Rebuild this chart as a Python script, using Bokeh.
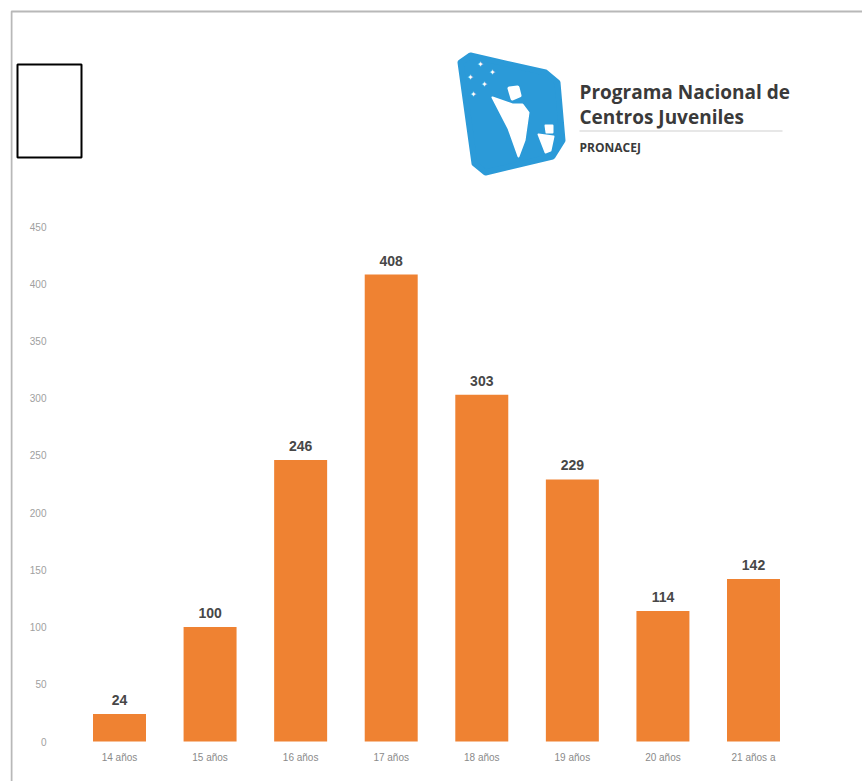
from bokeh.plotting import figure
from bokeh.models import (ColumnDataSource, FactorRange, Range1d, FixedTicker, LabelSet,
                          Label, BoxAnnotation, PolyAnnotation)
from bokeh.core.properties import value
from bokeh.embed import file_html
from bokeh.resources import INLINE

categories = ["14 años", "15 años", "16 años", "17 años", "18 años", "19 años", "20 años", "21 años a"]
values = [24, 100, 246, 408, 303, 229, 114, 142]
y_ticks = [0, 50, 100, 150, 200, 250, 300, 350, 400, 450]

src = ColumnDataSource(dict(cat=categories, val=values, lab=[str(v) for v in values]))

W, H = 862, 781
FL, FB = 10, 781      # frame left / frame bottom in page pixels
ZERO = 741            # page y of value 0
PX_PER_UNIT = (741 - 226) / 450.0

def sx(px):
    return px - FL

def sy(py):
    return FB - py

p = figure(width=W, height=H,
           x_range=FactorRange(*categories, range_padding=0.7035, range_padding_units="absolute"),
           y_range=Range1d(-(FB - ZERO) / PX_PER_UNIT, ZERO / PX_PER_UNIT),
           output_backend="svg", toolbar_location=None,
           min_border_left=FL, min_border_right=0, min_border_top=0, min_border_bottom=0)
p.outline_line_color = None
p.background_fill_color = "white"
p.border_fill_color = "white"
p.xgrid.grid_line_color = None
p.ygrid.grid_line_color = None

p.vbar(x="cat", top="val", width=0.585, source=src, color="#EF8232", line_color=None)

labels = LabelSet(x="cat", y="val", text="lab", source=src, text_align="center",
                  text_baseline="bottom", y_offset=9, text_font=value("Liberation Sans"),
                  text_font_style="bold", text_font_size="14px", text_color="#474747")
p.add_layout(labels)

p.yaxis.ticker = FixedTicker(ticks=y_ticks)
p.yaxis.axis_line_color = None
p.yaxis.major_tick_line_color = None
p.yaxis.minor_tick_line_color = None
p.yaxis.major_tick_out = 0
p.yaxis.major_tick_in = 0
p.yaxis.major_label_standoff = -36
p.yaxis.major_label_text_font = "Liberation Sans"
p.yaxis.major_label_text_font_size = "10px"
p.yaxis.major_label_text_color = "#a0a0a0"

p.xaxis.axis_line_color = None
p.xaxis.major_tick_line_color = None
p.xaxis.minor_tick_line_color = None
p.xaxis.major_tick_out = 0
p.xaxis.major_tick_in = 0
p.xaxis.major_label_standoff = -30
p.xaxis.major_label_text_font = "Liberation Sans"
p.xaxis.major_label_text_font_size = "10px"
p.xaxis.major_label_text_color = "#8a8a8a"

def sbox(l, t, r, b, **kw):
    return BoxAnnotation(left=sx(l), right=sx(r), top=sy(t), bottom=sy(b),
                         left_units="screen", right_units="screen",
                         top_units="screen", bottom_units="screen", **kw)

def spoly(pts, **kw):
    return PolyAnnotation(xs=[sx(a) for a, _ in pts], ys=[sy(b) for _, b in pts],
                          xs_units="screen", ys_units="screen", **kw)

# outer frame of the scanned page
p.add_layout(sbox(11, 11, 900, 820, fill_color=None, line_color="#b8b8b8", line_alpha=1,
                  line_width=2))
# small empty box top-left
p.add_layout(sbox(17, 64, 81, 157, fill_color="white", fill_alpha=1, line_color="black",
                  line_alpha=1, line_width=2))

# logo shape
p.add_layout(spoly([(460, 62), (470, 55), (545, 72), (557, 82), (562, 140), (552, 156),
                    (485, 172), (474, 163)],
                   fill_color="#2B9AD8", fill_alpha=1, line_color="#2B9AD8", line_alpha=1,
                   line_width=6, line_join="round"))
# figures in logo (white)
p.add_layout(spoly([(492, 97), (512, 104), (522, 104), (528, 112), (524, 140), (518, 156), (508, 128)],
                   fill_color="white", fill_alpha=1, line_color="white", line_alpha=1,
                   line_width=2, line_join="round"))
p.add_layout(spoly([(509, 88), (517, 87), (519, 95), (512, 98)],
                   fill_color="white", fill_alpha=1, line_color="white", line_alpha=1,
                   line_width=4, line_join="round"))
p.add_layout(spoly([(545, 125), (552, 125), (552, 132), (546, 132)],
                   fill_color="white", fill_alpha=1, line_color="white", line_alpha=1,
                   line_width=2, line_join="round"))
p.add_layout(spoly([(538, 134), (553, 136), (550, 150), (545, 152)],
                   fill_color="white", fill_alpha=1, line_color="white", line_alpha=1,
                   line_width=2, line_join="round"))
for (a, b) in [(480, 64), (492, 72), (470, 77), (484, 84), (473, 94)]:
    p.add_layout(Label(x=sx(a), y=sy(b), x_units="screen", y_units="screen", text="✦",
                       text_color="white", text_font_size="8px", text_align="center",
                       text_baseline="middle"))

p.add_layout(Label(x=sx(579), y=sy(91), x_units="screen", y_units="screen", text="Programa Nacional de",
                   text_font="Open Sans", text_font_style="bold", text_font_size="19px",
                   text_color="#3a3a3a", text_baseline="middle"))
p.add_layout(Label(x=sx(579), y=sy(116), x_units="screen", y_units="screen", text="Centros Juveniles",
                   text_font="Open Sans", text_font_style="bold", text_font_size="19px",
                   text_color="#3a3a3a", text_baseline="middle"))
p.add_layout(sbox(579, 130, 782, 131, fill_color="#d0d0d0", fill_alpha=1, line_color=None))
p.add_layout(Label(x=sx(579), y=sy(147), x_units="screen", y_units="screen", text="PRONACEJ",
                   text_font="Open Sans", text_font_style="bold", text_font_size="12px",
                   text_color="#3a3a3a", text_baseline="middle"))

open("out.html", "w").write(file_html(p, INLINE))
